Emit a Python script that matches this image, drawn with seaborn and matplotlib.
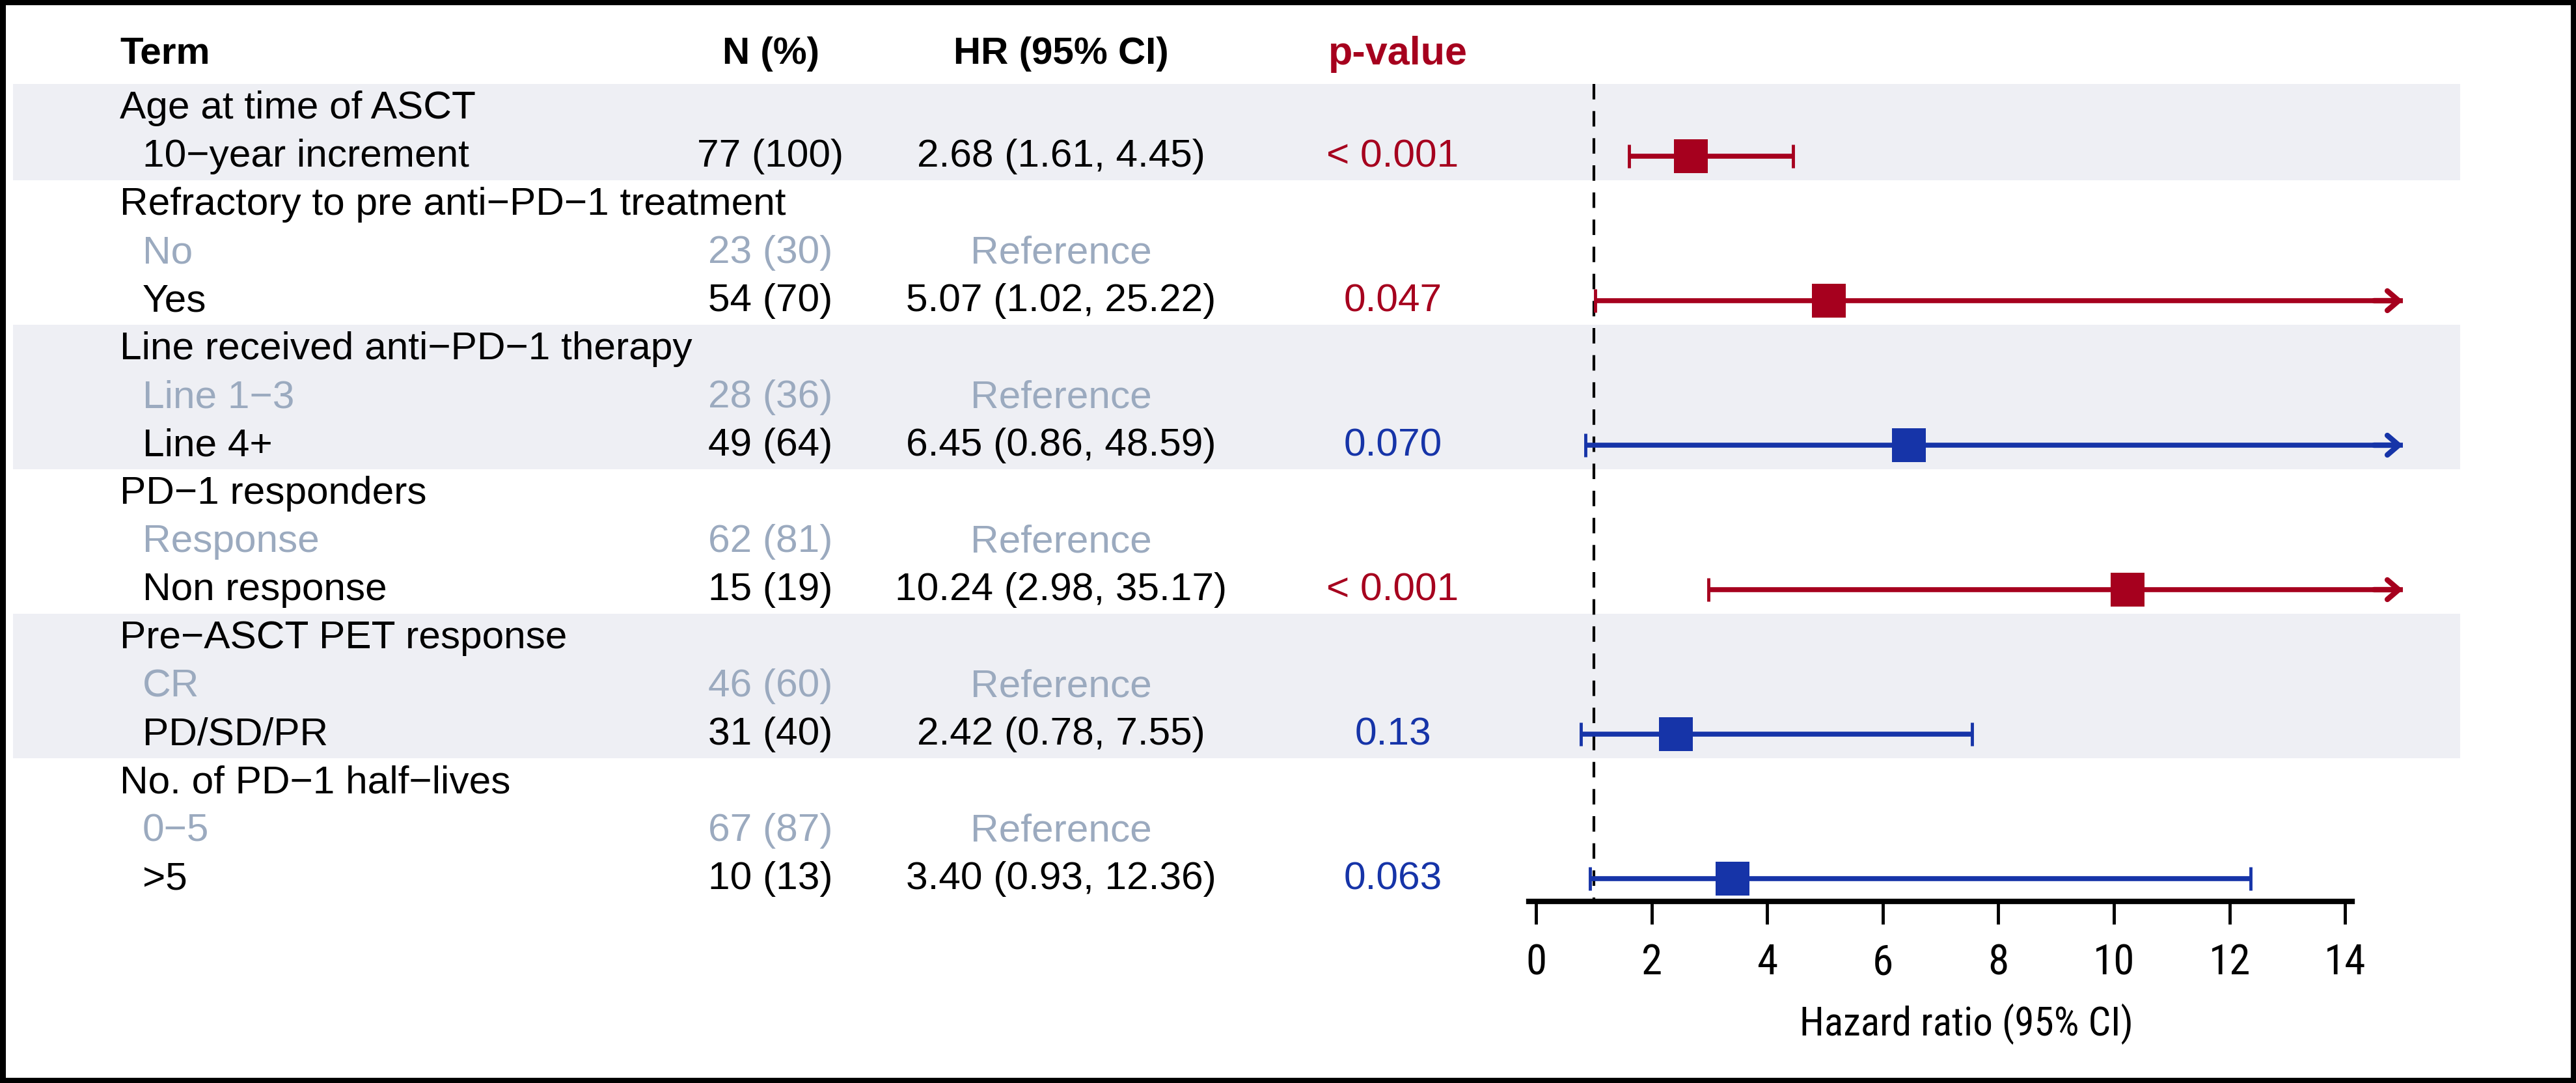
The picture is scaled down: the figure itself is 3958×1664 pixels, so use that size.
import numpy as np
import pandas as pd
import seaborn as sns
import matplotlib
matplotlib.use("Agg")
import matplotlib.pyplot as plt
from matplotlib import transforms, font_manager

# ---------------- data ----------------
terms = ["Age at time of ASCT", "10\u2212year increment",
         "Refractory to pre anti\u2212PD\u22121 treatment", "No", "Yes",
         "Line received anti\u2212PD\u22121 therapy", "Line 1\u22123", "Line 4+",
         "PD\u22121 responders", "Response", "Non response",
         "Pre\u2212ASCT PET response", "CR", "PD/SD/PR",
         "No. of PD\u22121 half\u2212lives", "0\u22125", ">5"]
row_kind = ["group", "level",
            "group", "ref", "level",
            "group", "ref", "level",
            "group", "ref", "level",
            "group", "ref", "level",
            "group", "ref", "level"]
n_pct = ["", "77 (100)", "", "23 (30)", "54 (70)", "", "28 (36)", "49 (64)",
         "", "62 (81)", "15 (19)", "", "46 (60)", "31 (40)", "", "67 (87)", "10 (13)"]

est_rows = [1, 4, 7, 10, 13, 16]
hr = [2.68, 5.07, 6.45, 10.24, 2.42, 3.40]
ci_lo = [1.61, 1.02, 0.86, 2.98, 0.78, 0.93]
ci_hi = [4.45, 25.22, 48.59, 35.17, 7.55, 12.36]
p_text = ["< 0.001", "0.047", "0.070", "< 0.001", "0.13", "0.063"]

x_ticks = [0, 2, 4, 6, 8, 10, 12, 14]

# ---------------- style ----------------
RED = "#A6001E"
BLUE = "#1634A8"
GREY = "#9BAABF"
BAND = "#EEEFF4"

sns.set_theme(style="white")
plt.rcParams["font.family"] = ["Liberation Sans", "DejaVu Sans"]

# pick a condensed face for the axis text if one is installed
fonts = font_manager.fontManager.ttflist
names = {f.name for f in fonts}
axis_font = dict(family="Liberation Sans")
axis_scale = 0.83
if "Liberation Sans Narrow" in names:
    axis_font = dict(family="Liberation Sans Narrow")
    axis_scale = 1.0
elif "Roboto Condensed" in names:
    axis_font = dict(family="Roboto Condensed")
    axis_scale = 1.0
else:
    for nm in ["DejaVu Sans", "Noto Sans", "Open Sans", "Roboto"]:
        if any(f.name == nm and f.stretch in ("condensed", "semi-condensed") for f in fonts):
            axis_font = dict(family=nm, stretch="condensed")
            axis_scale = 1.0
            break

W, H = 3958, 1665
ROW0, ROWH = 167, 74          # pixel centre of first row, row height
X0, UNIT = 2360, 88.8         # pixel of HR=0, pixels per HR unit
FS = 43.5
FS_HEAD = 42

fig = plt.figure(figsize=(W / 100, H / 100), dpi=100,
                 edgecolor="black", linewidth=12)
ax = fig.add_axes([0, 0, 1, 1])
ax.set_facecolor("none")
ax.set_xlim(-X0 / UNIT, (W - X0) / UNIT)
ax.set_ylim((H - ROW0) / ROWH, -ROW0 / ROWH)

# group bands
starts = [i for i, k in enumerate(row_kind) if k == "group"]
ends = starts[1:] + [len(terms)]
for g, (s, e) in enumerate(zip(starts, ends)):
    if g % 2 == 0:
        ax.axhspan(s - 0.5, e - 0.5, xmin=20 / W, xmax=3780 / W,
                   color=BAND, lw=0, zorder=0)

# table text
tab = transforms.blended_transform_factory(ax.transAxes, ax.transData)
X_TERM, X_LEVEL, X_N, X_HR, X_P = 184 / W, 219 / W, 1184 / W, 1630 / W, 2140 / W
y_head = (83 - ROW0) / ROWH
ax.text(X_TERM, y_head, "Term", transform=tab, ha="left", va="center",
        fontsize=FS_HEAD, fontweight="bold", color="black")
ax.text(X_N, y_head, "N (%)", transform=tab, ha="center", va="center",
        fontsize=FS_HEAD, fontweight="bold", color="black")
ax.text(X_HR, y_head, "HR (95% CI)", transform=tab, ha="center", va="center",
        fontsize=FS_HEAD, fontweight="bold", color="black")
ax.text(X_P + 8 / W, y_head, "p-value", transform=tab, ha="center", va="center",
        fontsize=FS_HEAD + 2, fontweight="bold", color=RED)

for i, (t, k, n) in enumerate(zip(terms, row_kind, n_pct)):
    col = GREY if k == "ref" else "black"
    x = X_TERM if k == "group" else X_LEVEL
    ax.text(x, i, t, transform=tab, ha="left", va="center", fontsize=FS, color=col)
    if n:
        ax.text(X_N, i, n, transform=tab, ha="center", va="center",
                fontsize=FS, color=col)
    if k == "ref":
        ax.text(X_HR, i, "Reference", transform=tab, ha="center", va="center",
                fontsize=FS, color=GREY)

df = pd.DataFrame({"row": est_rows, "hr": hr, "lo": ci_lo, "hi": ci_hi, "p": p_text})
df["pnum"] = df["p"].str.replace("<", "").astype(float)
df["sig"] = np.where(df["pnum"] < 0.05, "sig", "ns")
pal = {"sig": RED, "ns": BLUE}

for r in df.itertuples():
    c = pal[r.sig]
    ax.text(X_HR, r.row, f"{r.hr:.2f} ({r.lo:.2f}, {r.hi:.2f})", transform=tab,
            ha="center", va="center", fontsize=FS, color="black")
    ax.text(X_P, r.row, r.p, transform=tab, ha="center", va="center",
            fontsize=FS, color=c)

# forest plot
XCUT = 15
ax.vlines(1, -0.5, 16.47, colors="black", lw=3, linestyles=(0, (5.7, 4.3)), zorder=2)
for r in df.itertuples():
    c = pal[r.sig]
    right = min(r.hi, XCUT)
    ax.hlines(r.row, r.lo, right, colors=c, lw=5.5, zorder=3)
    ax.plot([r.lo], [r.row], marker="|", ms=26, mew=3.5, color=c, zorder=3)
    if r.hi > XCUT:
        ax.annotate("", xy=(XCUT, r.row), xytext=(XCUT - 0.5, r.row),
                    arrowprops=dict(arrowstyle="->,head_length=0.42,head_width=0.36",
                                    color=c, lw=6, shrinkA=0, shrinkB=0,
                                    mutation_scale=30), zorder=3)
    else:
        ax.plot([r.hi], [r.row], marker="|", ms=26, mew=3.5, color=c, zorder=3)

sns.scatterplot(data=df, x="hr", y="row", hue="sig", palette=pal, marker="s",
                s=1400, linewidth=0, legend=False, ax=ax, zorder=4)

# x axis
for s in ["top", "left", "right"]:
    ax.spines[s].set_visible(False)
ax.spines["bottom"].set_position(("data", (1386 - ROW0) / ROWH))
ax.spines["bottom"].set_bounds(-0.12, 14.12)
ax.spines["bottom"].set_linewidth(6)
ax.spines["bottom"].set_color("black")
ax.set_yticks([])
ax.set_xticks(x_ticks)
ax.set_xticklabels([str(v) for v in x_ticks], fontsize=47 * axis_scale, **axis_font)
ax.tick_params(axis="x", direction="out", length=25, width=3.5, pad=20,
               colors="black", bottom=True)
ax.set_xlabel("Hazard ratio (95% CI)", fontsize=44 * axis_scale, color="black", **axis_font)
ax.xaxis.set_label_coords(7.45, (1542 - ROW0) / ROWH, transform=ax.transData)
ax.set_ylabel("")

fig.savefig("out.png", dpi=100)
